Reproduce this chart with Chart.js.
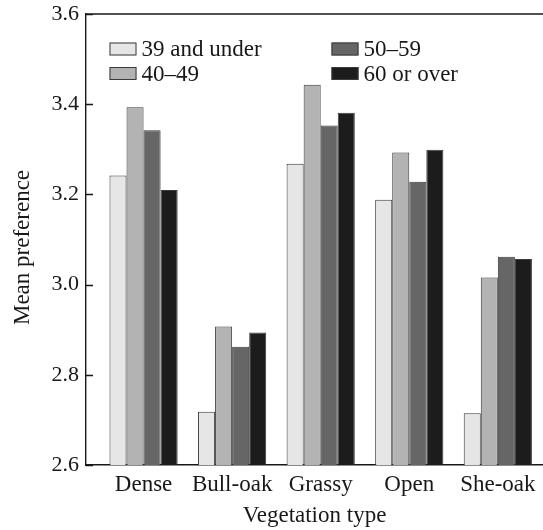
<!DOCTYPE html>
<html>
<head>
<meta charset="utf-8">
<title>Mean preference by vegetation type</title>
<script src="https://cdn.jsdelivr.net/npm/chart.js@4/dist/chart.umd.min.js"></script>
<style>
  html, body { margin: 0; padding: 0; background: #ffffff; }
  #wrap { width: 543px; height: 530px; }
</style>
</head>
<body>
<div id="wrap"><canvas id="chart" width="543" height="530"></canvas></div>
<script>
// Vegetation types along the x axis
const categories = ['Dense', 'Bull-oak', 'Grassy', 'Open', 'She-oak'];

// Age groups (series)
const seriesLabels = ['39 and under', '40\u201349', '50\u201359', '60 or over'];

// Mean preference per vegetation type, one array per age group
const age39Under = [3.242, 2.718, 3.268, 3.188, 2.715];
const age40to49  = [3.393, 2.907, 3.443, 3.293, 3.016];
const age50to59  = [3.342, 2.862, 3.353, 3.228, 3.062];
const age60Over  = [3.210, 2.894, 3.381, 3.299, 3.057];

// Y axis ticks
const yTicks = [2.6, 2.8, 3.0, 3.2, 3.4, 3.6];

const yTitle = 'Mean preference';
const xTitle = 'Vegetation type';

const seriesValues = [age39Under, age40to49, age50to59, age60Over];
const fills = ['#e6e6e6', '#b3b3b3', '#666666', '#1c1c1c'];

const FONT = "'Liberation Serif', 'Times New Roman', serif";
const INK = '#1a1718';
Chart.defaults.font.family = FONT;
Chart.defaults.color = INK;

// Inward ticks on the value axis, the top frame line and the value-axis title
const framePlugin = {
  id: 'frame',
  afterDraw(chart) {
    const { ctx, chartArea, scales } = chart;
    const y = scales.y;
    ctx.save();
    ctx.strokeStyle = INK;
    ctx.lineWidth = 1.4;
    ctx.beginPath();
    y.ticks.forEach(t => {
      const py = Math.round(y.getPixelForValue(t.value)) + 0.5;
      ctx.moveTo(chartArea.left, py);
      ctx.lineTo(chartArea.left + 7, py);
    });
    ctx.moveTo(chartArea.left, chartArea.top);
    ctx.lineTo(chartArea.right, chartArea.top);
    ctx.stroke();

    // rotated axis title, sitting a little below the axis midpoint
    ctx.translate(23, (chartArea.top + chartArea.bottom) / 2 + 8);
    ctx.rotate(-Math.PI / 2);
    ctx.font = '23px ' + FONT;
    ctx.fillStyle = INK;
    ctx.textAlign = 'center';
    ctx.textBaseline = 'middle';
    ctx.fillText(yTitle, 0, 0);
    ctx.restore();
  }
};

// Two-column legend inside the plot area
const legendPlugin = {
  id: 'boxLegend',
  afterDatasetsDraw(chart) {
    const { ctx, chartArea } = chart;
    const cols = [chartArea.left + 23.5, chartArea.left + 245.5];
    const rowTop = chartArea.top + 28.5;
    const rowGap = 24.5;
    const bw = 27, bh = 13;
    ctx.save();
    ctx.font = '23px ' + FONT;
    ctx.textBaseline = 'middle';
    ctx.textAlign = 'left';
    chart.data.datasets.forEach((ds, i) => {
      const col = Math.floor(i / 2), row = i % 2;
      const x = cols[col], y = rowTop + row * rowGap;
      ctx.fillStyle = ds.backgroundColor;
      ctx.fillRect(x, y, bw, bh);
      ctx.strokeStyle = '#3a3a3a';
      ctx.lineWidth = 1;
      ctx.strokeRect(x + 0.5, y + 0.5, bw - 1, bh - 1);
      ctx.fillStyle = INK;
      ctx.fillText(ds.label, x + bw + 5, y + bh / 2 + 1);
    });
    ctx.restore();
  }
};

const datasets = seriesLabels.map((label, s) => ({
  label,
  data: seriesValues[s].map((v, i) => ({ x: i, y: v })),
  backgroundColor: fills[s],
  borderColor: '#3a3a3a',
  borderWidth: 1,
  categoryPercentage: 0.77,
  barPercentage: 1.0
}));

new Chart(document.getElementById('chart'), {
  type: 'bar',
  data: { datasets },
  plugins: [framePlugin, legendPlugin],
  options: {
    responsive: false,
    animation: false,
    devicePixelRatio: 1,
    layout: { padding: { top: 14, right: 0, left: 0, bottom: 0 } },
    plugins: {
      legend: { display: false },
      tooltip: { enabled: false }
    },
    scales: {
      x: {
        type: 'linear',
        offset: false,
        min: -0.65,
        max: 4.51,
        afterBuildTicks(axis) {
          axis.ticks = categories.map((c, i) => ({ value: i }));
        },
        afterFit(axis) { axis.height = 65; },
        ticks: {
          autoSkip: false,
          maxRotation: 0,
          padding: 6,
          font: { size: 23 },
          color: INK,
          callback: v => categories[v]
        },
        grid: { display: false, drawTicks: false },
        border: { display: true, color: INK, width: 1.4 },
        title: {
          display: true,
          text: xTitle,
          font: { size: 23 },
          color: INK,
          padding: { top: 2, bottom: 0 }
        }
      },
      y: {
        min: 2.6,
        max: 3.6,
        afterBuildTicks(axis) {
          axis.ticks = yTicks.map(v => ({ value: v }));
        },
        afterFit(axis) { axis.width = 86; },
        ticks: {
          padding: 7,
          font: { size: 22, lineHeight: 0.6 },
          color: INK,
          callback: v => Number(v).toFixed(1)
        },
        grid: { display: false, drawTicks: false },
        border: { display: true, color: INK, width: 1.4 }
      }
    }
  }
});
</script>
</body>
</html>
